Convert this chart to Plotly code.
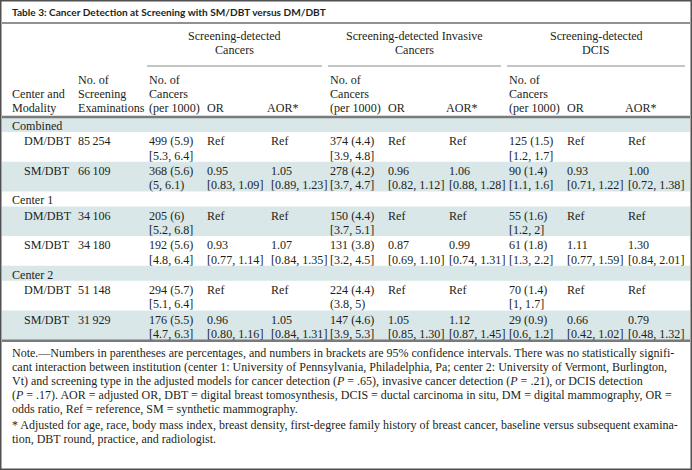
import plotly.graph_objects as go

# ---------------- data ----------------
title = "Table 3: Cancer Detection at Screening with SM/DBT versus DM/DBT"
group_labels = [["Screening-detected", "Cancers"],
                ["Screening-detected Invasive", "Cancers"],
                ["Screening-detected", "DCIS"]]
sub_headers = [["No. of", "Cancers", "(per 1000)"], ["OR"], ["AOR*"]]
left_headers = [["Center and", "Modality"], ["No. of", "Screening", "Examinations"]]

centers = ["Combined", "Center 1", "Center 2"]
modalities = ["DM/DBT", "SM/DBT"]
exams = ["85\u2009254", "66\u2009109", "34\u2009106", "34\u2009180", "51\u2009148", "31\u2009929"]

cancers_n = ["499 (5.9)", "368 (5.6)", "205 (6)", "192 (5.6)", "294 (5.7)", "176 (5.5)"]
cancers_ci = ["[5.3, 6.4]", "(5, 6.1)", "[5.2, 6.8]", "[4.8, 6.4]", "[5.1, 6.4]", "[4.7, 6.3]"]
cancers_or = ["Ref", "0.95", "Ref", "0.93", "Ref", "0.96"]
cancers_or_ci = ["", "[0.83, 1.09]", "", "[0.77, 1.14]", "", "[0.80, 1.16]"]
cancers_aor = ["Ref", "1.05", "Ref", "1.07", "Ref", "1.05"]
cancers_aor_ci = ["", "[0.89, 1.23]", "", "[0.84, 1.35]", "", "[0.84, 1.31]"]

invasive_n = ["374 (4.4)", "278 (4.2)", "150 (4.4)", "131 (3.8)", "224 (4.4)", "147 (4.6)"]
invasive_ci = ["[3.9, 4.8]", "[3.7, 4.7]", "[3.7, 5.1]", "[3.2, 4.5]", "(3.8, 5)", "[3.9, 5.3]"]
invasive_or = ["Ref", "0.96", "Ref", "0.87", "Ref", "1.05"]
invasive_or_ci = ["", "[0.82, 1.12]", "", "[0.69, 1.10]", "", "[0.85, 1.30]"]
invasive_aor = ["Ref", "1.06", "Ref", "0.99", "Ref", "1.12"]
invasive_aor_ci = ["", "[0.88, 1.28]", "", "[0.74, 1.31]", "", "[0.87, 1.45]"]

dcis_n = ["125 (1.5)", "90 (1.4)", "55 (1.6)", "61 (1.8)", "70 (1.4)", "29 (0.9)"]
dcis_ci = ["[1.2, 1.7]", "[1.1, 1.6]", "[1.2, 2]", "[1.3, 2.2]", "[1, 1.7]", "[0.6, 1.2]"]
dcis_or = ["Ref", "0.93", "Ref", "1.11", "Ref", "0.66"]
dcis_or_ci = ["", "[0.71, 1.22]", "", "[0.77, 1.59]", "", "[0.42, 1.02]"]
dcis_aor = ["Ref", "1.00", "Ref", "1.30", "Ref", "0.79"]
dcis_aor_ci = ["", "[0.72, 1.38]", "", "[0.84, 2.01]", "", "[0.48, 1.32]"]

note_lines = [
    "Note.\u2014Numbers in parentheses are percentages, and numbers in brackets are 95% confidence intervals. There was no statistically signifi-",
    "cant interaction between institution (center 1: University of Pennsylvania, Philadelphia, Pa; center 2: University of Vermont, Burlington,",
    "Vt) and screening type in the adjusted models for cancer detection (<i>P</i> = .65), invasive cancer detection (<i>P</i> = .21), or DCIS detection",
    "(<i>P</i> = .17). AOR = adjusted OR, DBT = digital breast tomosynthesis, DCIS = ductal carcinoma in situ, DM = digital mammography, OR =",
    "odds ratio, Ref = reference, SM = synthetic mammography.",
]
footnote_lines = [
    "* Adjusted for age, race, body mass index, breast density, first-degree family history of breast cancer, baseline versus subsequent examina-",
    "tion, DBT round, practice, and radiologist.",
]

# ---------------- styling / layout constants ----------------
W, H = 692, 470
SERIF = "Liberation Serif"
TXT = "#231f20"
SHADE = "#d9e7e9"
RULE = "#8a8a8a"
FS = 12.1
FS_NOTE = 12.0

col_left = [10, 76]
group_cols = [[147, 205, 269], [328, 386, 447], [507, 565, 626]]
group_span = [[147, 322], [328, 501], [507, 685]]
aor_hdr_center = [283, 462, 641]

y_title = 12
y_title_rule = 23
y_group_first = 36
y_group_rule = 66
y_sub_last = 108
hdr_gap = 14.2
y_header_rule = 117
sec_h = 15
data_h = 29.7
line_gap = 14.3

fig = go.Figure()
ann = []
shapes = []

def text(x, y, s, size=FS, xanchor="left", family=SERIF, color=TXT):
    ann.append(dict(x=x, y=y, xref="x", yref="y", text=s, showarrow=False,
                    xanchor=xanchor, yanchor="middle",
                    font=dict(family=family, size=size, color=color)))

def stack(x, lines, y_last, xanchor="left"):
    n = len(lines)
    for i, ln in enumerate(lines):
        text(x, y_last - (n - 1 - i) * hdr_gap, ln, xanchor=xanchor)

def hline(x0, x1, y, width=1, color=RULE):
    shapes.append(dict(type="line", xref="x", yref="y", x0=x0, x1=x1, y0=y, y1=y,
                       line=dict(color=color, width=width)))

# title
text(10, y_title, "<b>" + title + "</b>", size=10.1, family="Lato", color="#231f20")
hline(2, W - 2, y_title_rule, width=1.5, color="#6d6d6d")

# group headers
for g, lab in enumerate(group_labels):
    x0, x1 = group_span[g]
    stack((x0 + x1) / 2, lab, y_group_first + (len(lab) - 1) * hdr_gap, xanchor="center")
    hline(x0, x1, y_group_rule, width=1.2)

# column headers (bottom aligned)
for i, lab in enumerate(left_headers):
    stack(col_left[i], lab, y_sub_last)
for g in range(3):
    c = group_cols[g]
    stack(c[0], sub_headers[0], y_sub_last)
    stack(c[1], sub_headers[1], y_sub_last)
    stack(aor_hdr_center[g], sub_headers[2], y_sub_last, xanchor="center")

hline(2, W - 2, y_header_rule, width=2.5, color="#7a7a7a")

# body rows
groups_data = [
    (cancers_n, cancers_ci, cancers_or, cancers_or_ci, cancers_aor, cancers_aor_ci),
    (invasive_n, invasive_ci, invasive_or, invasive_or_ci, invasive_aor, invasive_aor_ci),
    (dcis_n, dcis_ci, dcis_or, dcis_or_ci, dcis_aor, dcis_aor_ci),
]
y = y_header_rule
band = 0
k = 0
for ci, center in enumerate(centers):
    if band % 2 == 0:
        shapes.append(dict(type="rect", xref="x", yref="y", x0=2, x1=W - 2, y0=y, y1=y + sec_h,
                           fillcolor=SHADE, line=dict(width=0), layer="below"))
    text(col_left[0], y + sec_h / 2 + 1.2, center)
    y += sec_h
    band += 1
    for mi, mod in enumerate(modalities):
        if band % 2 == 0:
            shapes.append(dict(type="rect", xref="x", yref="y", x0=2, x1=W - 2, y0=y, y1=y + data_h,
                               fillcolor=SHADE, line=dict(width=0), layer="below"))
        y1 = y + 9.2
        y2 = y1 + line_gap
        text(col_left[0] + 12, y1, mod)
        text(col_left[1], y1, exams[k])
        for g in range(3):
            n, nci, orv, orci, aor, aorci = groups_data[g]
            c = group_cols[g]
            text(c[0], y1, n[k]); text(c[0], y2, nci[k])
            text(c[1], y1, orv[k])
            if orci[k]:
                text(c[1], y2, orci[k])
            text(c[2], y1, aor[k])
            if aorci[k]:
                text(c[2], y2, aorci[k])
        y += data_h
        band += 1
        k += 1

hline(2, W - 2, y + 0.5, width=2.5, color="#7a7a7a")

# notes
yn = y + 12.5
for ln in note_lines:
    text(10, yn, ln, size=FS_NOTE)
    yn += 14
yn += 2
for ln in footnote_lines:
    text(10, yn, ln, size=FS_NOTE)
    yn += 14

# outer frame
shapes.append(dict(type="rect", xref="x", yref="y", x0=0.75, x1=W - 0.75, y0=0.75, y1=H - 0.75,
                   line=dict(color="#505050", width=1.5), fillcolor="rgba(0,0,0,0)"))

fig.update_layout(
    width=W, height=H, margin=dict(l=0, r=0, t=0, b=0),
    paper_bgcolor="white", plot_bgcolor="white",
    xaxis=dict(range=[0, W], visible=False, fixedrange=True),
    yaxis=dict(range=[H, 0], visible=False, fixedrange=True),
    annotations=ann, shapes=shapes, showlegend=False,
)
fig.write_html("out.html", config={"displayModeBar": False, "staticPlot": True},
               post_script="document.body.style.margin='0';document.body.style.overflow='hidden';")
